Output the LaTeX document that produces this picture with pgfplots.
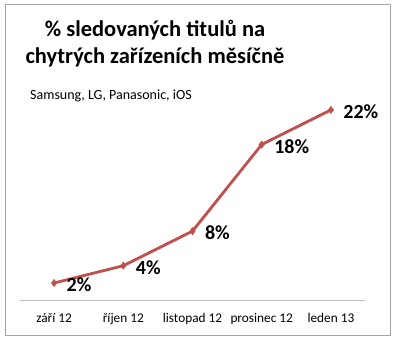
\documentclass[border=0pt]{standalone}
\usepackage{pgfplots}
\pgfplotsset{compat=1.18}
\usepackage{fontspec}
\setmainfont{Carlito}
\definecolor{exred}{HTML}{C0504D}
\definecolor{bordergray}{HTML}{A6A6A6}
\definecolor{axgray}{HTML}{BFBFBF}
\begin{document}
\begin{tikzpicture}
\path[use as bounding box] (0,0) rectangle (400bp,341bp);
\draw[bordergray, line width=0.9bp] (5.5bp,336.5bp) rectangle (390.5bp,6bp);
\node[font=\fontsize{22.5bp}{26bp}\selectfont\bfseries, anchor=base] at (155bp,304bp) {\% sledovaných titulů na};
\node[font=\fontsize{22.5bp}{26bp}\selectfont\bfseries, anchor=base] at (155bp,277bp) {chytrých zařízeních měsíčně};
\node[font=\fontsize{14bp}{16bp}\selectfont, anchor=base west, inner sep=0pt] at (30bp,241bp) {Samsung, LG, Panasonic, iOS};
\begin{axis}[
  at={(19.5bp,40.7bp)}, anchor=south west,
  scale only axis, width=346bp, height=216.3bp,
  xmin=-0.5, xmax=4.5, ymin=0, ymax=25,
  axis x line=bottom, axis y line=none,
  x axis line style={axgray, line width=0.9bp, -},
  xtick=data,
  xticklabels={září 12, říjen 12, listopad 12, prosinec 12, leden 13},
  xtick style={draw=none},
  xticklabel style={font=\fontsize{13.3bp}{15bp}\selectfont, yshift=-7bp},
  /pgf/number format/assume math mode=true,
  clip=false,
  nodes near coords={\pgfmathprintnumber{\pgfplotspointmeta}\%},
  nodes near coords style={font=\fontsize{20bp}{22bp}\selectfont\bfseries, text=black, anchor=west, xshift=9bp, yshift=-2bp},
]
\addplot[exred, line width=2.8bp, mark=diamond*, mark size=3.6bp, mark options={fill=exred, line width=0.5bp}]
  coordinates {(0,2) (1,4) (2,8) (3,18) (4,22)};
\end{axis}
\end{tikzpicture}
\end{document}
